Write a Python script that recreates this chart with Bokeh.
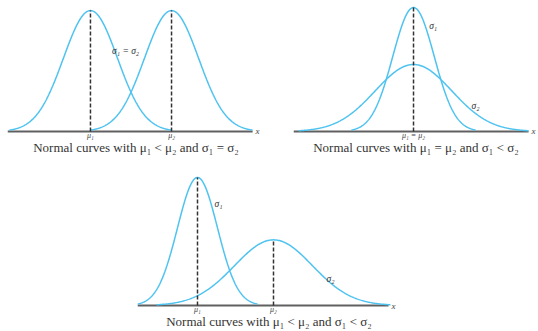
import numpy as np
from bokeh.plotting import figure
from bokeh.layouts import column, row
from bokeh.models import Spacer, FixedTicker, Label
from bokeh.core.properties import value
from bokeh.embed import file_html
from bokeh.resources import INLINE

# ---- data (in standard-deviation units) ----
p1_mu = [0.0, 3.0]
p1_sigma = [1.0, 1.0]
p1_ticks = ["μ₁", "μ₂"]
p1_caption = "Normal curves with μ₁ < μ₂ and σ₁ = σ₂"
p1_note = "σ₁ = σ₂"

p2_mu = [0.0, 0.0]
p2_sigma = [1.0, 1.85]
p2_ticks = ["μ₁ = μ₂"]
p2_caption = "Normal curves with μ₁ = μ₂ and σ₁ < σ₂"
p2_notes = ["σ₁", "σ₂"]

p3_mu = [0.0, 3.8]
p3_sigma = [1.0, 1.95]
p3_ticks = ["μ₁", "μ₂"]
p3_caption = "Normal curves with μ₁ < μ₂ and σ₁ < σ₂"
p3_notes = ["σ₁", "σ₂"]

CURVE = "#4fc3f0"
DASH = "#333333"
AXIS = "#606060"
SERIF = "Liberation Serif"


def pdf(x, mu, s):
    return np.exp(-0.5 * ((x - mu) / s) ** 2) / (s * np.sqrt(2 * np.pi))


def make_fig(width, height, xr, axis_end, yr, border_left, border_top,
             mus, sigmas, tick_vals, tick_labels, caption, dashed):
    p = figure(width=width, height=height, x_range=xr, y_range=yr,
               output_backend="svg", toolbar_location=None,
               min_border_left=border_left, min_border_right=0,
               min_border_top=border_top, min_border_bottom=0)
    p.outline_line_color = None
    p.background_fill_color = None
    p.border_fill_color = None
    p.xgrid.visible = False
    p.ygrid.visible = False
    p.yaxis.visible = False
    ax = p.xaxis[0]
    ax.ticker = FixedTicker(ticks=tick_vals)
    ax.major_label_overrides = {v: l for v, l in zip(tick_vals, tick_labels)}
    ax.major_tick_line_color = None
    ax.minor_tick_line_color = None
    ax.major_tick_out = 0
    ax.major_label_standoff = -6
    ax.major_label_text_font = SERIF
    ax.major_label_text_font_style = "italic"
    ax.major_label_text_font_size = "8px"
    ax.major_label_text_color = "#444444"
    ax.axis_line_color = None
    ax.axis_label = caption
    ax.axis_label_standoff = -3
    ax.axis_label_text_font = SERIF
    ax.axis_label_text_font_style = "normal"
    ax.axis_label_text_font_size = "13px"
    ax.axis_label_text_color = "#333333"
    # horizontal axis line drawn at y = 0, ending with an "x"
    p.segment(x0=[xr[0]], y0=[0], x1=[axis_end], y1=[0],
              line_color=AXIS, line_width=2)
    p.text(x=[axis_end], y=[0], text=["x"], x_offset=3,
           text_baseline="middle", text_align="left",
           text_font=value(SERIF), text_font_style="italic",
           text_font_size="9px", text_color="#444444")
    for mu, s in zip(mus, sigmas):
        xs = np.linspace(mu - 3 * s, mu + 3 * s, 300)
        p.line(xs, pdf(xs, mu, s), line_color=CURVE, line_width=1.5)
    for mu, s in dashed:
        p.segment(x0=[mu], y0=[0], x1=[mu], y1=[pdf(mu, mu, s)],
                  line_color=DASH, line_width=1.5, line_dash="4 2")
    return p


def note(p, x, y, text, size="9.5px"):
    p.add_layout(Label(x=x, y=y, text=text, text_align="center", text_baseline="middle",
                       text_font=SERIF, text_font_style="italic",
                       text_font_size=size, text_color="#333333"))


# panel 1
p1 = make_fig(264, 157, (-3.07, 6.44), 6.0, (-0.0166, 0.4322), 7, 0,
              p1_mu, p1_sigma, p1_mu, p1_ticks, p1_caption,
              list(zip(p1_mu, p1_sigma)))
note(p1, 1.3, 0.266, p1_note)

# panel 2
p2 = make_fig(245, 157, (-5.8, 6.04), 5.56, (-0.0162, 0.4216), 0, 0,
              p2_mu, p2_sigma, [p2_mu[0]], p2_ticks, p2_caption,
              [(p2_mu[0], p2_sigma[0])])
note(p2, 0.95, 0.341, p2_notes[0])
note(p2, 3.0, 0.081, p2_notes[1])

# panel 3
p3 = make_fig(270, 174, (-3.0, 10.15), 9.55, (-0.0155, 0.4144), 7, 15,
              p3_mu, p3_sigma, p3_mu, p3_ticks, p3_caption,
              list(zip(p3_mu, p3_sigma)))
note(p3, 1.05, 0.315, p3_notes[0])
note(p3, 6.65, 0.084, p3_notes[1])

layout = column(row(p1, Spacer(width=29, height=10), p2),
                row(Spacer(width=130, height=10), p3))

open("out.html", "w").write(file_html(layout, INLINE))
